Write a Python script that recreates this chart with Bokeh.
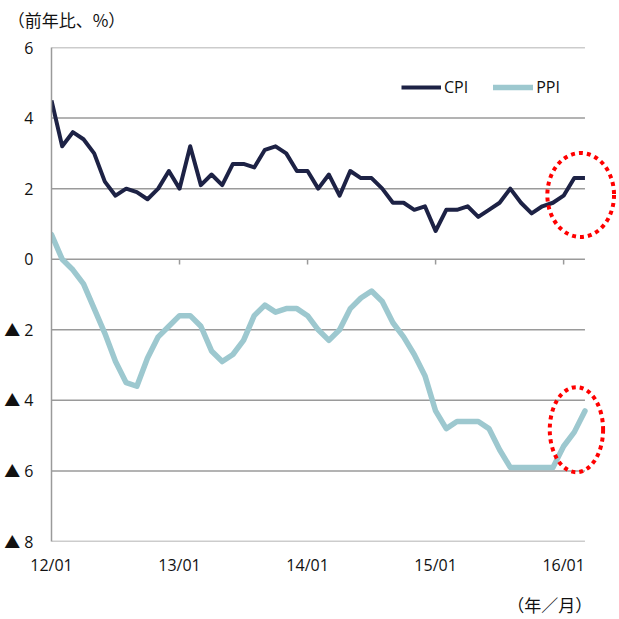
from bokeh.plotting import figure
from bokeh.models import Legend, LegendItem, LinearAxis, FixedTicker, Range1d
from bokeh.embed import file_html
from bokeh.resources import INLINE

# China CPI / PPI, year-on-year %, monthly from 2012/01 to 2016/03
cpi = [4.5, 3.2, 3.6, 3.4, 3.0, 2.2, 1.8, 2.0, 1.9, 1.7, 2.0, 2.5,
       2.0, 3.2, 2.1, 2.4, 2.1, 2.7, 2.7, 2.6, 3.1, 3.2, 3.0, 2.5,
       2.5, 2.0, 2.4, 1.8, 2.5, 2.3, 2.3, 2.0, 1.6, 1.6, 1.4, 1.5,
       0.8, 1.4, 1.4, 1.5, 1.2, 1.4, 1.6, 2.0, 1.6, 1.3, 1.5, 1.6,
       1.8, 2.3, 2.3]
ppi = [0.7, 0.0, -0.3, -0.7, -1.4, -2.1, -2.9, -3.5, -3.6, -2.8, -2.2, -1.9,
       -1.6, -1.6, -1.9, -2.6, -2.9, -2.7, -2.3, -1.6, -1.3, -1.5, -1.4, -1.4,
       -1.6, -2.0, -2.3, -2.0, -1.4, -1.1, -0.9, -1.2, -1.8, -2.2, -2.7, -3.3,
       -4.3, -4.8, -4.6, -4.6, -4.6, -4.8, -5.4, -5.9, -5.9, -5.9, -5.9, -5.9,
       -5.3, -4.9, -4.3]
months = list(range(len(cpi)))

x_tick_pos = [0, 12, 24, 36, 48]
x_tick_labels = ["12/01", "13/01", "14/01", "15/01", "16/01"]
y_tick_pos = [6, 4, 2, 0, -2, -4, -6, -8]
y_tick_labels = ["6", "4", "2", "0", "▲ 2", "▲ 4", "▲ 6", "▲ 8"]
unit_label = "（前年比、%）"
period_label = "（年／月）"

LATIN = "'Open Sans', 'Noto Sans CJK JP'"
CJK = "Noto Sans CJK JP"
TEXT = "#111111"
CPI_COLOR = "#1d2245"
PPI_COLOR = "#9dc8cf"
GRID = "#9a9a9a"

last = months[-1]


def bare_axis(axis):
    axis.axis_line_color = None
    axis.major_tick_line_color = None
    axis.minor_tick_line_color = None
    axis.major_tick_out = 0
    axis.major_tick_in = 0
    axis.minor_tick_out = 0


# the frame runs a little past the last month so the rings are not cut off
p = figure(width=619, height=619, output_backend="svg", toolbar_location=None,
           x_range=Range1d(0, 53.05), y_range=Range1d(-8, 6),
           min_border_left=51, min_border_right=2,
           min_border_top=47, min_border_bottom=76)
p.outline_line_color = None
p.background_fill_color = "white"
p.border_fill_color = "white"

# month axis
p.xaxis.ticker = FixedTicker(ticks=x_tick_pos)
p.xaxis.major_label_overrides = dict(zip(x_tick_pos, x_tick_labels))
bare_axis(p.xaxis[0])
p.xaxis.major_label_standoff = 12
p.xaxis.major_label_text_font = LATIN
p.xaxis.major_label_text_font_size = "16px"
p.xaxis.major_label_text_color = TEXT

# value axis
p.yaxis.ticker = FixedTicker(ticks=y_tick_pos)
p.yaxis.major_label_overrides = dict(zip(y_tick_pos, y_tick_labels))
bare_axis(p.yaxis[0])
p.yaxis.axis_line_color = GRID
p.yaxis.axis_line_width = 1.5
p.yaxis.major_label_standoff = 18
p.yaxis.major_label_text_font = LATIN
p.yaxis.major_label_text_font_size = "16px"
p.yaxis.major_label_text_color = TEXT

# unit caption above the value axis, period caption below the month labels
unit_at = 1.41
unit_axis = LinearAxis(ticker=FixedTicker(ticks=[unit_at]),
                       major_label_overrides={unit_at: unit_label})
bare_axis(unit_axis)
unit_axis.major_label_standoff = 16
unit_axis.major_label_text_font = CJK
unit_axis.major_label_text_font_size = "17px"
unit_axis.major_label_text_color = TEXT
p.add_layout(unit_axis, "above")

period_at = 46.7
period_axis = LinearAxis(ticker=FixedTicker(ticks=[period_at]),
                         major_label_overrides={period_at: period_label})
bare_axis(period_axis)
period_axis.major_label_standoff = 13
period_axis.major_label_text_font = CJK
period_axis.major_label_text_font_size = "17px"
period_axis.major_label_text_color = TEXT
p.add_layout(period_axis, "below")

p.grid.grid_line_color = None

# horizontal gridlines spanning the months only
p.segment(x0=[0] * len(y_tick_pos), y0=y_tick_pos,
          x1=[last] * len(y_tick_pos), y1=y_tick_pos,
          line_color=GRID, line_width=1.5)

# year tick marks hanging below the zero line
p.segment(x0=x_tick_pos[1:], y0=[0] * 4, x1=x_tick_pos[1:], y1=[-0.15] * 4,
          line_color=GRID, line_width=1.5)

r_cpi = p.line(months, cpi, line_color=CPI_COLOR, line_width=4,
               line_join="round")
r_ppi = p.line(months, ppi, line_color=PPI_COLOR, line_width=5.5,
               line_join="round", line_cap="round")

# dotted red rings around the latest readings
p.ellipse(x=[49.6, 49.2], y=[1.82, -4.83], width=[6.25, 5.0],
          height=[2.38, 2.41], fill_color=None, line_color="#ff0000",
          line_width=4, line_dash="4 4")

legend = Legend(items=[LegendItem(label="CPI", renderers=[r_cpi]),
                       LegendItem(label="PPI", renderers=[r_ppi])],
                orientation="horizontal", location=(350, 443),
                glyph_width=40, glyph_height=20, label_standoff=3,
                spacing=25, padding=0, margin=0,
                border_line_color=None, background_fill_alpha=0,
                label_text_font=LATIN, label_text_font_size="16px",
                label_text_color=TEXT)
p.add_layout(legend, "center")

open("out.html", "w").write(file_html(p, INLINE))
